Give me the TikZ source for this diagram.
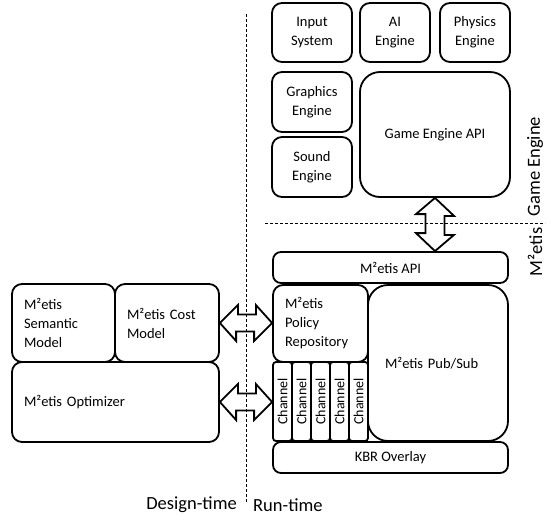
\documentclass[tikz,border=0pt]{standalone}
\usepackage{fontspec}
\setmainfont{Carlito}
\newcommand{\boxfont}{\fontsize{14.5}{19}\selectfont}
\newcommand{\chanfont}{\fontsize{14}{15}\selectfont}
\newcommand{\sidefont}{\fontsize{18.5}{22}\selectfont}

\begin{document}
\begin{tikzpicture}[x=1pt, y=-1pt,
    box/.style={draw, line width=1.8pt, rounded corners=10pt, inner sep=0pt, align=center, font=\boxfont},
    leftbox/.style={box, align=left, text width=#1},
    chanbox/.style={draw, line width=1.8pt, rounded corners=3pt, inner sep=0pt, rotate=90,
        minimum width=79pt, minimum height=19pt, font=\chanfont},
    fatarrow/.style={draw, line width=1.8pt, line join=miter},
    sepline/.style={line width=0.8pt, dash pattern=on 3pt off 2pt},
    sidelabel/.style={inner sep=0pt, font=\sidefont}]
    \useasboundingbox (0,0) rectangle (547,517);

    % Separators between design-time / run-time and engine / middleware
    \draw[sepline] (246,14) -- (246,503);
    \draw[sepline] (265,223) -- (545,223);
    \node[sidelabel, anchor=east] (design) at (237,505) {Design-time};
    \node[sidelabel, anchor=west] (run) at (253,505) {Run-time};
    \node[sidelabel, rotate=90] (gelabel) at (535,166.5) {Game Engine};
    \node[sidelabel, rotate=90] (mlabel) at (535,252) {M²etis};

    % Game engine modules
    \node[box, minimum width=80pt, minimum height=59pt] (input) at (312,32.5) {Input\\System};
    \node[box, minimum width=70pt, minimum height=59pt] (ai) at (395,32.5) {AI\\Engine};
    \node[box, minimum width=70pt, minimum height=59pt] (physics) at (475,32.5) {Physics\\Engine};
    \node[box, minimum width=80pt, minimum height=60pt] (graphics) at (312,102) {Graphics\\Engine};
    \node[box, minimum width=80pt, minimum height=60pt] (sound) at (312,167) {Sound\\Engine};
    \node[box, rounded corners=20pt, minimum width=150pt, minimum height=125pt] (geapi) at (435,134.5) {Game Engine API};

    % M2etis run-time
    \node[box, rounded corners=8pt, minimum width=235pt, minimum height=31pt] (mapi) at (390.5,267.5) {M²etis API};
    \node[leftbox=71pt, minimum width=95pt, minimum height=77pt] (policy) at (320.5,323.5) {M²etis\\Policy\\Repository};
    \node[leftbox=106pt, rounded corners=20pt, minimum width=140pt, minimum height=156pt] (pubsub) at (438,363) {M²etis Pub/Sub};
    \foreach \i in {0,...,4}
        \node[chanbox] (chan\i) at (282.5+19*\i,401.5) {Channel};
    \node[box, rounded corners=8pt, minimum width=235pt, minimum height=31pt] (kbr) at (390.5,457.5) {KBR Overlay};

    % M2etis design-time
    \node[leftbox=79pt, minimum width=103pt, minimum height=78pt] (semantic) at (63.5,323) {M²etis\\Semantic\\Model};
    \node[leftbox=80pt, minimum width=104pt, minimum height=78pt] (cost) at (167,323) {M²etis Cost\\Model};
    \node[leftbox=183pt, minimum width=207pt, minimum height=80pt] (optimizer) at (115.5,402) {M²etis Optimizer};

    % Double arrows
    \draw[fatarrow] (geapi.south) -- ++(19,18) -- ++(-9.5,0) -- ++(0,19) -- ++(9.5,0)
        -- (geapi.south |- mapi.north) -- ++(-19,-18) -- ++(9.5,0) -- ++(0,-19) -- ++(-9.5,0) -- cycle;
    \draw[fatarrow] (cost.east) -- ++(18,-18) -- ++(0,9.5) -- ++(18,0) -- ++(0,-9.5)
        -- (cost.east -| policy.west) -- ++(-18,18) -- ++(0,-9.5) -- ++(-18,0) -- ++(0,9.5) -- cycle;
    \draw[fatarrow] (optimizer.east) -- ++(18,-18) -- ++(0,9.5) -- ++(18,0) -- ++(0,-9.5)
        -- (optimizer.east -| chan0.north) -- ++(-18,18) -- ++(0,-9.5) -- ++(-18,0) -- ++(0,9.5) -- cycle;
\end{tikzpicture}
\end{document}
